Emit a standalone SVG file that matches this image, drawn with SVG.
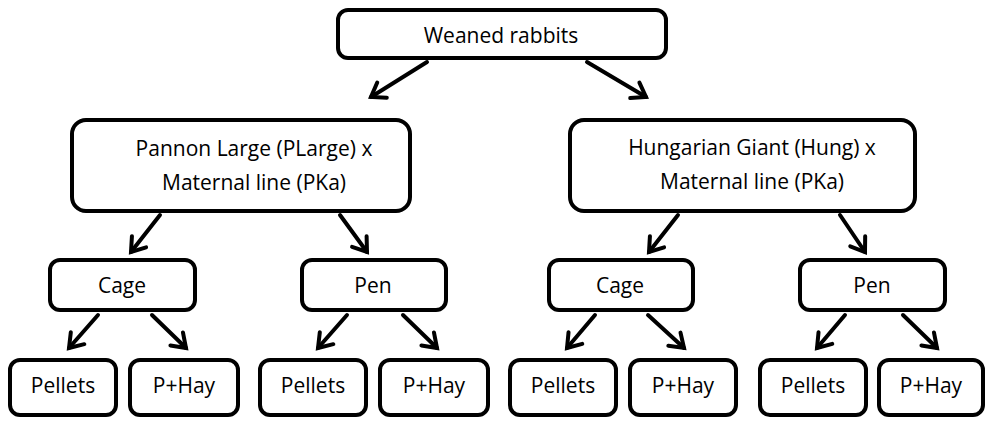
<svg xmlns="http://www.w3.org/2000/svg" width="987" height="421" viewBox="0 0 987 421">
  <style>
    .box { fill: #ffffff; stroke: #000000; stroke-width: 4; }
    .lbl { font-family: "Open Sans", "Liberation Sans", sans-serif; font-size: 21px; fill: #000000; text-anchor: middle; }
    .edge { fill: none; stroke: #000000; stroke-width: 4; stroke-linecap: round; marker-end: url(#chevron); }
  </style>
  <defs>
    <marker id="chevron" markerUnits="userSpaceOnUse" markerWidth="30" markerHeight="30" viewBox="-20 -15 30 30" refX="0" refY="0" orient="auto" overflow="visible">
      <path d="M-13,-9 L0,0 L-13,9" fill="none" stroke="#000000" stroke-width="4" stroke-linecap="round" stroke-linejoin="miter"/>
    </marker>
  </defs>

  <rect width="987" height="421" fill="#ffffff"/>

  <g id="connectors">
    <line class="edge" x1="427" y1="62" x2="371" y2="97"/>
    <line class="edge" x1="587" y1="62" x2="646" y2="97"/>
    <line class="edge" x1="160" y1="215" x2="131" y2="252"/>
    <line class="edge" x1="340" y1="215" x2="367" y2="252"/>
    <line class="edge" x1="678" y1="215" x2="649" y2="252"/>
    <line class="edge" x1="840" y1="215" x2="865" y2="252"/>
    <line class="edge" x1="98" y1="315" x2="69" y2="348"/>
    <line class="edge" x1="152" y1="315" x2="186" y2="348"/>
    <line class="edge" x1="347" y1="315" x2="318" y2="348"/>
    <line class="edge" x1="403" y1="315" x2="437" y2="348"/>
    <line class="edge" x1="595" y1="315" x2="567" y2="348"/>
    <line class="edge" x1="648" y1="315" x2="684" y2="348"/>
    <line class="edge" x1="845" y1="315" x2="817" y2="348"/>
    <line class="edge" x1="903" y1="315" x2="937" y2="348"/>
  </g>

  <g id="weaned">
    <rect class="box" x="338" y="10" width="328" height="48" rx="10"/>
    <text class="lbl" x="501" y="43">Weaned rabbits</text>
  </g>

  <g id="plarge">
    <rect class="box" x="72" y="120" width="338" height="91" rx="14"/>
    <text class="lbl" x="254" y="156">Pannon Large (PLarge) x</text>
    <text class="lbl" x="254" y="190">Maternal line (PKa)</text>
  </g>

  <g id="hung">
    <rect class="box" x="570" y="120" width="345" height="91" rx="14"/>
    <text class="lbl" x="752" y="155">Hungarian Giant (Hung) x</text>
    <text class="lbl" x="752" y="189">Maternal line (PKa)</text>
  </g>

  <g id="cage-plarge">
    <rect class="box" x="50" y="260" width="145" height="50" rx="10"/>
    <text class="lbl" x="122" y="293">Cage</text>
  </g>
  <g id="pen-plarge">
    <rect class="box" x="302" y="260" width="144" height="50" rx="10"/>
    <text class="lbl" x="373" y="293">Pen</text>
  </g>
  <g id="cage-hung">
    <rect class="box" x="549" y="260" width="144" height="50" rx="10"/>
    <text class="lbl" x="620" y="293">Cage</text>
  </g>
  <g id="pen-hung">
    <rect class="box" x="800" y="260" width="145" height="50" rx="10"/>
    <text class="lbl" x="872" y="293">Pen</text>
  </g>

  <g id="pellets-1">
    <rect class="box" x="10" y="360" width="106" height="55" rx="10"/>
    <text class="lbl" x="63" y="393">Pellets</text>
  </g>
  <g id="phay-1">
    <rect class="box" x="130" y="360" width="108" height="55" rx="10"/>
    <text class="lbl" x="184" y="393">P+Hay</text>
  </g>
  <g id="pellets-2">
    <rect class="box" x="260" y="360" width="106" height="55" rx="10"/>
    <text class="lbl" x="313" y="393">Pellets</text>
  </g>
  <g id="phay-2">
    <rect class="box" x="380" y="360" width="108" height="55" rx="10"/>
    <text class="lbl" x="434" y="393">P+Hay</text>
  </g>
  <g id="pellets-3">
    <rect class="box" x="510" y="360" width="106" height="55" rx="10"/>
    <text class="lbl" x="563" y="393">Pellets</text>
  </g>
  <g id="phay-3">
    <rect class="box" x="630" y="360" width="106" height="55" rx="10"/>
    <text class="lbl" x="683" y="393">P+Hay</text>
  </g>
  <g id="pellets-4">
    <rect class="box" x="760" y="360" width="106" height="55" rx="10"/>
    <text class="lbl" x="813" y="393">Pellets</text>
  </g>
  <g id="phay-4">
    <rect class="box" x="879" y="360" width="104" height="55" rx="10"/>
    <text class="lbl" x="931" y="393">P+Hay</text>
  </g>
</svg>
